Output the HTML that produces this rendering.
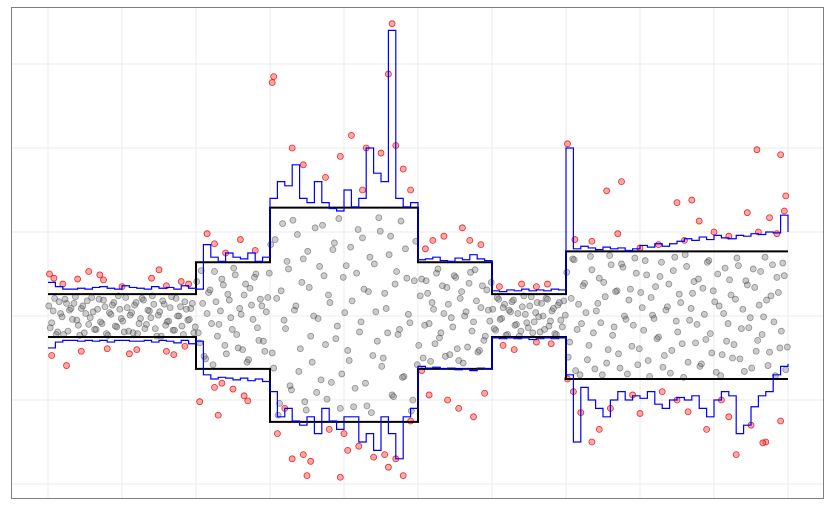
<!DOCTYPE html>
<html><head><meta charset="utf-8">
<style>
html,body{margin:0;padding:0;background:#fff;}
svg{display:block;font-family:"Liberation Sans",sans-serif;}
</style></head>
<body>
<svg id="chart" width="832" height="512" viewBox="0 0 832 512">
<rect x="0" y="0" width="832" height="512" fill="#fff"/>
<g id="grid"></g>
<g id="gray"></g>
<g id="red"></g>
<g id="thr"></g>
<g id="blue"></g>
<rect x="11.5" y="7.5" width="812" height="491" fill="none" stroke="#7f7f7f" stroke-width="1"/>
</svg>
<script>
// ---- data ----
const segStarts = [0,200,300,500,600,700];
const segEnds   = [200,300,500,600,700,1000];
const upperThr  = [2.6,6.4,12.9,6.4,2.6,7.7];
const lowerThr  = [-2.5,-6.3,-12.6,-6.3,-2.5,-7.5];
const grayA = [1.2,-0.8,2.1,-1.9,0.3,-2.2,1.5,0.7,-0.4,2.3,-1.1,0.9,-2.0,1.8,-0.2,0.5,-1.6,2.0,-0.9,1.1,-2.3,0.2,1.6,-1.3,0.8,-0.6,2.2,-1.8,0.4,1.3,-2.1,-0.3,1.9,-1.0,0.6,2.4,-1.5,0.1,-2.4,1.4,-0.7,1.0,-1.7,2.1,0.0,-1.2,1.7,-0.5,0.9,-2.0,
4.1,-3.2,1.5,-5.1,2.8,-0.9,5.3,-2.4,0.6,3.7,-4.5,1.9,-1.6,4.9,-3.8,0.2,2.5,-5.5,3.3,-0.4,5.0,-2.9,1.2,-4.2,2.2,
8.5,-6.2,2.1,-10.4,11.0,-1.5,5.6,-8.8,0.7,9.7,-3.9,6.8,-11.2,3.4,-5.5,10.5,-0.3,-7.6,4.8,-9.9,1.6,7.9,-2.7,11.6,-6.9,0.4,-4.1,8.2,-10.8,5.1,-1.9,9.3,-8.0,2.9,-11.5,6.2,-3.0,10.1,-5.0,0.9,7.3,-9.4,3.8,-2.2,11.3,-7.2,4.5,-0.8,-10.0,8.9,
-3.5,4.4,-1.1,2.7,-5.4,0.8,5.1,-2.6,3.6,-4.8,1.4,-0.2,4.8,-3.9,2.1,-5.6,0.5,3.9,-1.8,5.5,-4.3,1.0,-2.9,3.1,-0.6,
0.8,-1.7,2.0,-0.3,1.4,-2.2,0.5,1.9,-1.0,-2.4,1.1,0.2,-1.4,2.3,-0.7,1.6,-1.9,0.0,2.1,-1.2,0.6,-2.1,1.3,-0.5,1.8,
5.2,-3.1,6.8,-6.5,1.4,-0.9,3.9,-5.2,7.1,-2.0,0.6,4.5,-7.0,2.3,-4.0,6.1,-1.3,3.0,-6.2,5.8,-0.4,1.9,-3.6,6.9,-5.8,2.8,-1.7,4.9,-7.2,0.1,3.5,-2.5,6.4,-4.7,1.1,-6.8,5.4,-0.6,2.6,-3.3,7.3,-5.5,0.9,4.1,-1.0,-6.0,3.3,-2.8,6.6,-4.4,1.7,5.0,-7.1,0.3,-3.0,4.3,-5.0,2.0,6.0,-1.5,-6.6,3.7,-0.2,5.6,-4.2,1.3,-2.2,7.0,-5.9,2.4,-0.7,4.6,-3.8,6.3,-6.4];
const grayB = [-1.4,0.6,-2.2,1.7,-0.1,2.0,-1.8,0.9,1.5,-0.5,-2.3,1.2,0.3,-1.0,2.2,-1.6,0.8,-0.7,1.9,-2.1,0.4,1.3,-1.2,2.4,-0.3,-1.9,1.0,0.1,-2.0,1.6,-0.9,2.1,-1.5,0.7,-0.2,1.4,-2.4,0.5,1.8,-1.1,-0.6,2.3,-1.7,0.0,1.1,-2.2,0.8,-0.4,1.5,-1.3,
-2.0,5.4,-4.8,0.3,3.1,-5.8,1.7,-1.0,4.4,-3.5,2.6,-0.2,5.7,-2.2,0.9,-4.0,3.8,-5.2,1.3,4.6,-1.4,2.0,-3.0,0.5,5.1,
-4.4,9.1,-11.8,3.0,-0.5,6.5,-8.3,11.4,1.2,-6.6,4.0,-10.2,7.7,-2.4,0.0,-9.1,5.9,10.8,-3.4,2.5,-7.9,8.7,-1.2,-11.0,4.6,6.0,-5.3,1.8,-8.6,10.3,-0.7,3.2,-10.7,7.0,-4.7,0.5,11.7,-6.0,2.7,-2.0,9.5,-9.6,5.3,-1.6,-7.3,8.0,0.2,-11.3,4.2,-5.8,
2.4,-5.0,4.2,-0.9,1.6,-3.3,5.6,-2.0,0.3,3.4,-4.6,-1.3,4.6,-5.3,2.9,0.0,-3.7,5.2,-0.7,1.8,-4.1,3.6,-2.4,0.7,4.0,
-1.5,2.2,-0.4,1.0,-2.3,0.7,1.7,-1.1,0.3,-1.8,2.4,-0.8,1.2,-2.0,0.4,-0.1,1.5,-1.6,2.0,-0.6,0.9,-2.2,1.6,-1.3,0.1,
-4.9,2.1,6.7,-1.6,-7.0,3.6,0.4,-3.5,5.5,-6.3,1.5,-0.8,4.0,-5.6,7.2,-2.3,2.9,-4.5,6.2,0.0,-6.9,3.2,-1.1,5.1,-3.9,1.0,6.6,-5.3,2.2,-0.3,-2.7,4.7,-6.1,0.7,3.8,-4.1,7.0,-1.9,1.6,-7.3,5.9,-0.5,2.7,-3.2,4.4,-5.7,0.2,6.4,-2.1,3.0,-6.7,1.2,-4.6,5.7,-0.9,2.5,-3.4,6.9,-5.1,0.8,4.2,-1.4,-6.2,3.4,-2.9,5.3,-0.1,1.9,-4.3,6.1,-7.1,2.8,-1.8,4.8,-3.7];
const redX = [2,8,20,40,55,70,75,100,140,150,160,180,190, 5,25,45,80,110,120,160,170,185,
215,225,240,260,280, 205,225,235,250,270,265,230,
305,303,330,345,375,395,410,425,430,450,460,465,470,480,490,
310,320,330,345,350,355,380,395,400,405,420,440,455,460,470,490,480,
510,520,535,560,570,585, 505,515,540,555,575,590,
610,640,660,675, 615,630,660,680,
702,712,735,755,770,775,800,825,850,860,870,880,900,920,945,960,975,985,995,997,990,958,
702,710,720,735,745,760,790,800,830,850,865,890,910,920,930,950,970,990,966];
const redY = [5,4.5,3.8,4.4,5.3,4.9,4.3,3.5,4.5,5.5,3.6,4.1,3.8, -4.7,-5.9,-4.2,-3.9,-4.5,-4.0,-4.2,-4.6,-3.6,
9.8,8.6,7.5,9.1,7.8, -10.2,-8.5,-8.0,-8.7,-10.1,-9.5,-11.8,
28.5,27.8,20,18,16.5,19,21.5,15,20,19.4,28.8,34.8,20.3,17.5,15,
-14,-11,-17,-16.5,-19,-17.3,-13.5,-19.2,-14,-16,-15.5,-16.8,-16.5,-18,-17,-12.5,-19,
8,9,9.5,10.5,9,8.5, -6.5,-9.4,-10,-11,-12,-9.2,
3.5,3.8,3.5,3.8, -3.5,-4,-3.1,-3.3,
20.5,9.1,8.9,14.9,9.8,16,8.1,8.5,13.5,9.0,13.8,11.3,10,9.5,12.3,10,11.7,9.8,12.5,14.3,19.2,19.8,
-7.5,-9,-11.5,-15,-13.5,-11,-9.4,-11.6,-9,-10,-11.4,-13.5,-10,-12,-16.5,-13,-15,-12.5,-15.1];
const upperBlue = [4,3.5,3.2,3.2,3.3,3.2,3.4,3.5,3.3,3.2,3.6,3.4,3.3,3.2,3.5,3.3,3.4,3.2,3.6,3.3,3.2,
8.5,7,6.5,7.5,7,6.8,7.5,6.5,7.0,
14,16,15.5,18,14,13.5,16,13.5,12.8,12.5,15,13,14,20,17,16,34,14,13,13.5,
6.7,6.8,7,6.6,6.5,6.9,6.7,7.3,6.8,6.6,
3,2.9,3.1,3,3.2,3,3.1,3,3.2,3.1,
20,8,8.3,8.1,7.9,8.2,8,8.1,7.8,8,8.4,8.2,8.6,8.3,8.6,8.9,9.2,9,9.4,9.1,9.6,9.3,9.2,9.6,9.5,9.8,9.7,10,9.9,12,10];
const lowerBlue = [-3.8,-3.1,-2.9,-2.9,-3.0,-2.9,-3.0,-2.9,-3.1,-2.9,-2.9,-3.0,-3.0,-2.9,-3.1,-2.9,-3.0,-3.2,-2.9,-3.3,-3.0,
-7,-7.5,-7.3,-7.4,-7.6,-7.4,-7.7,-7.5,-7.8,
-9,-12,-11,-12.5,-13,-12,-14,-11,-12.5,-13.5,-12,-12,-15,-14,-16,-12,-14,-17,-12,-11,
-6,-6.2,-6.1,-6.3,-6.2,-6.4,-6.3,-6.5,-6.2,-6.3,
-2.6,-2.7,-2.6,-2.7,-2.6,-2.8,-2.7,-2.6,-2.7,-2.6,
-7,-15,-8.5,-10,-11,-12,-10,-9,-10,-9.5,-9.8,-9,-10.5,-11,-10,-9.7,-10,-9.5,-11,-12,-10,-9,-9.5,-14,-13,-10.8,-9.5,-9,-7,-6,-5.7];
const xTicks = [0,100,200,300,400,500,600,700,800,900,1000];
const yTicks = [-30,-20,-10,0,10,20,30,40];

// ---- scales ----
const NS='http://www.w3.org/2000/svg';
function sx(x){return 48 + x*0.74;}
function sy(v){return 316 - v*8.4;}
function mk(tag,attrs,parent){const e=document.createElementNS(NS,tag);for(const k in attrs)e.setAttribute(k,attrs[k]);parent.appendChild(e);return e;}

const grid=document.getElementById('grid');
xTicks.forEach(t=>{
  const l=mk('line',{x1:sx(t),x2:sx(t),y1:8,y2:498,stroke:'#ebebeb','stroke-width':1},grid);
  
  
});
yTicks.forEach(t=>{
  const y=sy(t); if(y<8||y>498) return;
  const l=mk('line',{x1:12,x2:823,y1:y,y2:y,stroke:'#ebebeb','stroke-width':1},grid);
  
  
});

const gray=document.getElementById('gray');
function drawGray(arr,off){
  arr.forEach((v,i)=>{
    const c=mk('circle',{cx:sx(i*4+off),cy:sy(v),r:3,fill:'rgba(110,110,110,0.35)',stroke:'rgba(60,60,60,0.5)','stroke-width':0.8},gray);
    
    
  });
}
drawGray(grayA,1);drawGray(grayB,3);

const red=document.getElementById('red');
redX.forEach((x,i)=>{
  const c=mk('circle',{cx:sx(x),cy:sy(redY[i]),r:3,fill:'rgba(255,60,60,0.45)',stroke:'rgba(220,0,0,0.8)','stroke-width':0.8},red);
  
  
});

const thr=document.getElementById('thr');
function thrPath(vals){
  let d='';
  segStarts.forEach((s,i)=>{d+=(i===0?'M':'L')+sx(s)+','+sy(vals[i])+'L'+sx(segEnds[i])+','+sy(vals[i]);});
  return d;
}
const tu=mk('path',{d:thrPath(upperThr),fill:'none',stroke:'#000','stroke-width':2},thr);


const tl=mk('path',{d:thrPath(lowerThr),fill:'none',stroke:'#000','stroke-width':2},thr);



const blue=document.getElementById('blue');
function stepPath(vals){
  let d='';
  vals.forEach((v,i)=>{
    const x=i*10;
    if(i===0) d+='M'+sx(x)+','+sy(v);
    else d+='L'+sx(x)+','+sy(vals[i-1])+'L'+sx(x)+','+sy(v);
  });
  return d;
}
const bu=mk('path',{d:stepPath(upperBlue),fill:'none',stroke:'#0000ff','stroke-width':1.2},blue);


const bl=mk('path',{d:stepPath(lowerBlue),fill:'none',stroke:'#0000ff','stroke-width':1.2},blue);


</script>
</body></html>
